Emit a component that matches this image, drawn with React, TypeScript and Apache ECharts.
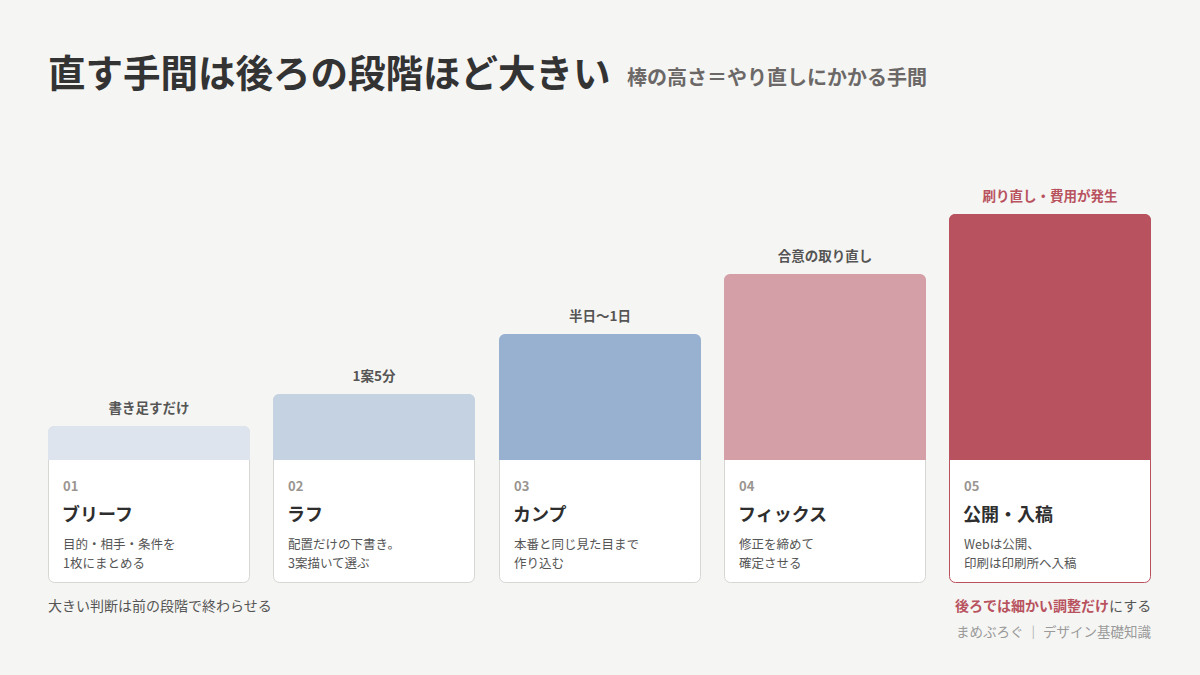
import React, { useEffect, useRef } from "react";
import * as echarts from "echarts";

// ---- data ----
const stageNumbers = ["01", "02", "03", "04", "05"];
const stageNames = ["ブリーフ", "ラフ", "カンプ", "フィックス", "公開・入稿"];
// relative rework effort (bar height)
const reworkEffort = [1.13, 2.2, 4.2, 6.2, 8.2];
const effortLabels = ["書き足すだけ", "1案5分", "半日〜1日", "合意の取り直し", "刷り直し・費用が発生"];
const descLine1 = ["目的・相手・条件を", "配置だけの下書き。", "本番と同じ見た目まで", "修正を締めて", "Webは公開、"];
const descLine2 = ["1枚にまとめる", "3案描いて選ぶ", "作り込む", "確定させる", "印刷は印刷所へ入稿"];

const titleText = "直す手間は後ろの段階ほど大きい";
const subtitleText = "棒の高さ＝やり直しにかかる手間";
const noteLeft = "大きい判断は前の段階で終わらせる";
const noteRightStrong = "後ろでは細かい調整だけ";
const noteRightRest = "にする";
const sourceText = "まめぶろぐ ｜ デザイン基礎知識";

// ---- styles ----
const barColors = ["#dde4ee", "#c4d2e2", "#99b1d1", "#d49fa7", "#b8525e"];
const FONT = '"Noto Sans CJK JP", "Noto Sans", sans-serif';
const ACCENT = "#b8525e";

export default function App() {
  const ref = useRef<HTMLDivElement>(null);

  useEffect(() => {
    if (!ref.current) return;
    const chart = echarts.init(ref.current, undefined, { renderer: "svg" });

    const BAR_W = 202;
    const CARD_H = 123;
    const R = 6;

    const renderItem = (params: any, api: any) => {
      const idx = api.value(0);
      const val = api.value(1);
      const top = api.coord([idx, val]);
      const base = api.coord([idx, 0]);
      const cx = top[0];
      const x0 = Math.round(cx - BAR_W / 2);
      const yTop = Math.round(top[1]);
      const yBase = Math.round(base[1]);
      const last = idx === stageNames.length - 1;
      const borderColor = last ? ACCENT : "#d6d6d3";
      return {
        type: "group",
        children: [
          {
            type: "rect",
            shape: { x: x0 + 0.5, y: yTop + 0.5, width: BAR_W - 1, height: yBase - yTop + CARD_H - 1, r: R },
            style: { fill: "#ffffff", stroke: borderColor, lineWidth: 1 },
          },
          {
            type: "rect",
            shape: { x: x0, y: yTop, width: BAR_W, height: yBase - yTop, r: [R, R, 0, 0] },
            style: { fill: barColors[idx] },
          },
          {
            type: "text",
            style: {
              text: effortLabels[idx],
              x: x0 + BAR_W / 2,
              y: yTop - 19,
              textAlign: "center",
              textVerticalAlign: "middle",
              font: `bold 13.5px ${FONT}`,
              fill: last ? ACCENT : "#555555",
            },
          },
          {
            type: "text",
            style: {
              text: stageNumbers[idx],
              x: x0 + 15,
              y: yBase + 25,
              textAlign: "left",
              textVerticalAlign: "middle",
              font: `600 13px ${FONT}`,
              fill: "#9a9590",
            },
          },
          {
            type: "text",
            style: {
              text: stageNames[idx],
              x: x0 + 14,
              y: yBase + 53,
              textAlign: "left",
              textVerticalAlign: "middle",
              font: `bold 18px ${FONT}`,
              fill: "#2e2e2e",
            },
          },
          {
            type: "text",
            style: {
              text: descLine1[idx],
              x: x0 + 15,
              y: yBase + 83,
              textAlign: "left",
              textVerticalAlign: "middle",
              font: `12.5px ${FONT}`,
              fill: "#555555",
            },
          },
          {
            type: "text",
            style: {
              text: descLine2[idx],
              x: x0 + 15,
              y: yBase + 102,
              textAlign: "left",
              textVerticalAlign: "middle",
              font: `12.5px ${FONT}`,
              fill: "#555555",
            },
          },
        ],
      };
    };

    chart.setOption({
      animation: false,
      backgroundColor: "#f5f5f3",
      grid: { left: 36.5, right: 37.5, top: 160, bottom: 215 },
      xAxis: {
        type: "category",
        data: stageNames,
        show: false,
      },
      yAxis: { type: "value", min: 0, max: 10, show: false },
      series: [
        {
          type: "custom",
          clip: false,
          renderItem,
          data: reworkEffort.map((v, i) => [i, v]),
        },
      ],
      graphic: [
        {
          type: "text",
          left: 48,
          top: 52,
          style: { text: titleText, font: `bold 37.5px ${FONT}`, fill: "#333333" },
        },
        {
          type: "text",
          left: 627,
          top: 66,
          style: { text: subtitleText, font: `bold 20px ${FONT}`, fill: "#6b6867" },
        },
        {
          type: "text",
          left: 48,
          top: 598,
          style: { text: noteLeft, font: `14px ${FONT}`, fill: "#555555" },
        },
        {
          type: "text",
          right: 49,
          top: 598,
          style: { text: noteRightRest, font: `14px ${FONT}`, fill: "#555555" },
        },
        {
          type: "text",
          right: 91,
          top: 598,
          style: { text: noteRightStrong, font: `bold 14px ${FONT}`, fill: ACCENT },
        },
        {
          type: "text",
          right: 49,
          top: 624,
          style: { text: sourceText, font: `13.5px ${FONT}`, fill: "#9a9a9a" },
        },
      ],
    });

    return () => chart.dispose();
  }, []);

  return <div ref={ref} style={{ width: 1200, height: 675, position: "absolute", left: 0, top: 0 }} />;
}
